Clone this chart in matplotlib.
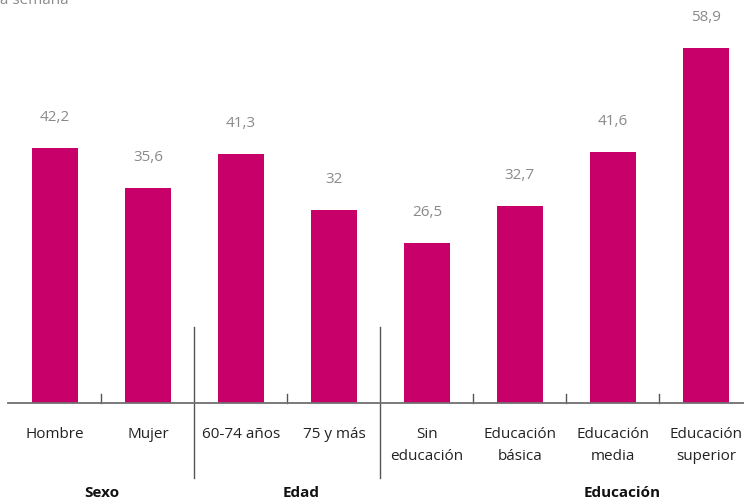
import matplotlib.pyplot as plt
import numpy as np

categories = ['Hombre', 'Mujer', '60-74 años', '75 y más', 'Sin\neducación',
              'Educación\nbásica', 'Educación\nmedia', 'Educación\nsuperior']
values = [42.2, 35.6, 41.3, 32, 26.5, 32.7, 41.6, 58.9]
value_labels = ['42,2', '35,6', '41,3', '32', '26,5', '32,7', '41,6', '58,9']
groups = ['Sexo', 'Edad', 'Educación']
group_x = [0.5, 2.65, 6.1]
separators = [1.5, 3.5]
minor_ticks = [0.5, 2.5, 4.5, 5.5, 6.5]

plt.rcParams['font.family'] = ['Open Sans', 'DejaVu Sans']

fig = plt.figure(figsize=(7.44, 5.03), dpi=100)
ax = fig.add_axes([8 / 744, 100 / 503, 736 / 744, 403 / 503])

x = np.arange(len(values))
ax.bar(x, values, width=0.495, color='#c8006a')
for xi, v, lab in zip(x, values, value_labels):
    ax.annotate(lab, (xi, v), xytext=(0, 22), textcoords='offset points',
                ha='center', va='center', fontsize=11, color='#8a8a8a')

ax.set_xlim(-0.505, 7.41)
ax.set_ylim(0, 66.8)
ax.set_yticks([])
ax.set_xticks([])
for s in ['top', 'right', 'left']:
    ax.spines[s].set_visible(False)
ax.spines['bottom'].set_color('#707070')
ax.spines['bottom'].set_linewidth(1.3)

trans = ax.get_xaxis_transform()
for t in minor_ticks:
    ax.plot([t, t], [0, 9 / 403], transform=trans, color='#555555', lw=1, clip_on=False)
for s in separators:
    ax.plot([s, s], [-75 / 403, 76 / 403], transform=trans, color='#555555', lw=1, clip_on=False)

for xi, c in zip(x, categories):
    if '\n' in c:
        top, bottom = c.split('\n')
        ax.text(xi, -31 / 403, top, transform=trans, ha='center', va='center',
                fontsize=11, color='#222222')
        ax.text(xi, -53 / 403, bottom, transform=trans, ha='center', va='center',
                fontsize=11, color='#222222')
    else:
        ax.text(xi, -31 / 403, c, transform=trans, ha='center', va='center',
                fontsize=11, color='#222222')

for gx, g in zip(group_x, groups):
    ax.text(gx, -90 / 403, g, transform=trans, ha='center', va='center',
            fontsize=11, fontweight='bold', color='#111111')

# texto del título cortado en el borde superior, como en el original
fig.text(-0.005, 1.014, 'la semana', ha='left', va='top', fontsize=11, color='#8a8a8a')

fig.savefig('out.png', dpi=100)
